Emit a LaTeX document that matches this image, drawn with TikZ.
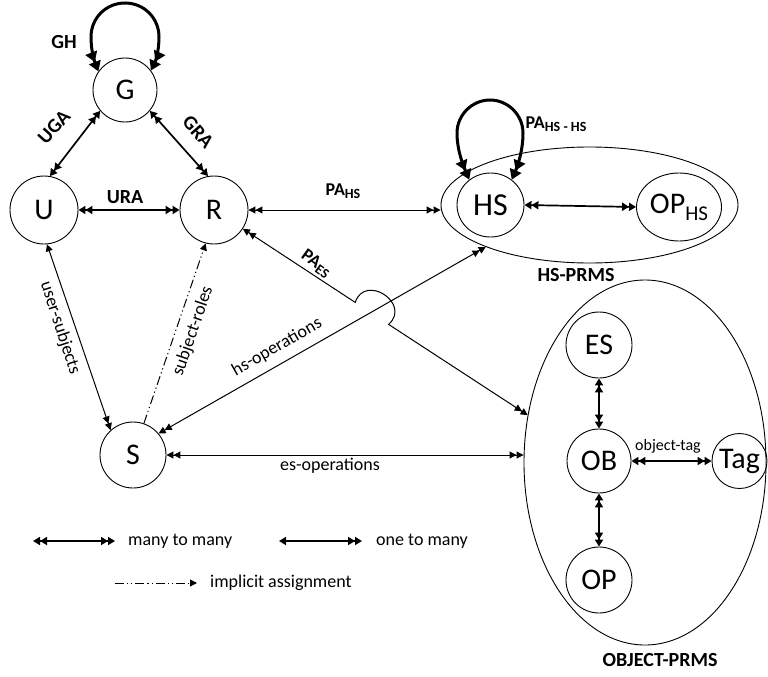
\documentclass[tikz,border=0pt]{standalone}
\usepackage{fontspec}
\setmainfont{Carlito}
\usetikzlibrary{arrows.meta,shapes.geometric}
\begin{document}
\begin{tikzpicture}[x=1pt,y=1pt,
  circ/.style={circle,draw,line width=0.9pt,inner sep=0pt,font=\fontsize{30}{30}\selectfont},
  ell/.style={ellipse,draw,line width=0.9pt,inner sep=0pt},
  boldlbl/.style={inner sep=0pt,font=\fontsize{20}{20}\selectfont\bfseries},
  plainlbl/.style={inner sep=0pt,font=\fontsize{18}{18}\selectfont},
  thinline/.style={line width=1pt},
  medline/.style={line width=1.7pt},
  thickline/.style={line width=3pt},
  mmthin/.style={thinline,arrows={Triangle[length=7pt,width=7pt]Triangle[length=7pt,width=7pt]-Triangle[length=7pt,width=7pt]Triangle[length=7pt,width=7pt]}},
  omthin/.style={thinline,arrows={Triangle[length=7pt,width=7pt]-Triangle[length=7pt,width=7pt]Triangle[length=7pt,width=7pt]}},
  mmmed/.style={medline,arrows={Triangle[length=7pt,width=8pt]Triangle[length=7pt,width=8pt]-Triangle[length=7pt,width=8pt]Triangle[length=7pt,width=8pt]}},
  ommed/.style={medline,arrows={Triangle[length=7pt,width=8pt]-Triangle[length=7pt,width=8pt]Triangle[length=7pt,width=8pt]}},
  mmbig/.style={thickline,arrows={Triangle[length=10pt,width=12pt]Triangle[length=10pt,width=12pt]-Triangle[length=10pt,width=12pt]Triangle[length=10pt,width=12pt]}},
  implicitline/.style={line width=1pt,dash pattern=on 9pt off 3pt on 1.2pt off 3pt on 1.2pt off 3pt,arrows={-Triangle[length=7pt,width=7pt]}}
]
\useasboundingbox (0,0) rectangle (768,-677);

% containers
\node[ell,minimum width=297pt,minimum height=116pt] (hsprms) at (589.5,-205) {};
\node[ell,minimum width=242pt,minimum height=365pt] (objprms) at (645,-462.5) {};

% nodes
\node[circ,minimum size=64pt] (G) at (125,-90) {G};
\node[circ,minimum size=68pt] (U) at (44,-210) {U};
\node[circ,minimum size=68pt] (R) at (214,-210) {R};
\node[circ,minimum size=66pt] (S) at (133,-455) {S};
\node[ell,minimum width=67pt,minimum height=64pt,font=\fontsize{32}{32}\selectfont] (HS) at (490.5,-205) {HS};
\node[ell,minimum width=85pt,minimum height=68pt,font=\fontsize{30}{30}\selectfont] (OPHS) at (679,-207) {OP\raisebox{-7pt}{\fontsize{21}{21}\selectfont HS}};
\node[circ,minimum size=66pt] (ES) at (599,-345) {ES};
\node[circ,minimum size=64pt] (OB) at (599,-461) {OB};
\node[circ,minimum size=66pt] (OP) at (599,-580) {OP};
\node[circ,minimum size=55pt] (Tag) at (739.5,-461) {Tag};

% loops
\draw[mmbig] (G.145) .. controls (94,-60) and (91,-50) .. (91,-37)
  .. controls (91,-18) and (106,-3) .. (125,-3)
  .. controls (144,-3) and (159,-18) .. (159,-37)
  .. controls (159,-50) and (156,-60) .. (G.37);
\draw[mmbig] (HS.130) .. controls (463,-165) and (457,-150) .. (457,-133)
  .. controls (457,-115) and (472,-100) .. (490,-100)
  .. controls (508,-100) and (523,-115) .. (523,-133)
  .. controls (523,-150) and (518,-165) .. (HS.50);

% medium connectors
\draw[mmmed] (G.220) -- (U.80);
\draw[mmmed] (G.-40) -- (R.100);
\draw[mmmed] (U.east) -- (R.west);
\draw[mmmed] (HS.east) -- (OPHS.west);
\draw[mmmed] (ES.south) -- (OB.north);
\draw[mmmed] (OB.south) -- (OP.north);
\draw[mmmed] (OB.east) -- (Tag.west);

% thin connectors
\draw[mmthin] (R.east) -- (R.east -| hsprms.west);
\draw[mmthin] (S.40) -- (hsprms.202);
\draw[mmthin] (S.east) -- (S.east -| objprms.west);
\draw[omthin] (U.275) -- (S.132);
\draw[implicitline] (S.71) -- (R.256);
\coordinate (hopA) at (355.2,-302.4);
\coordinate (hopB) at (388.6,-324.4);
\draw[mmthin] (R.327) -- (hopA) .. controls (365.0,-272.9) and (411.8,-303.7) .. (hopB) -- (objprms.158);

% labels
\node[boldlbl] (lGH) at (64,-42) {GH};
\node[boldlbl,rotate=48] (lUGA) at (54,-127) {UGA};
\node[boldlbl,rotate=-49] (lGRA) at (198,-132) {GRA};
\node[boldlbl] (lURA) at (125,-197) {URA};
\node[boldlbl] (lPAHS) at (343,-191) {\fontsize{18}{18}\selectfont PA\raisebox{-3pt}{\fontsize{14}{14}\selectfont HS}};
\node[boldlbl,rotate=-36] (lPAES) at (316,-264) {\fontsize{18}{18}\selectfont PA\raisebox{-3pt}{\fontsize{14}{14}\selectfont ES}};
\node[boldlbl] (lPAHSHS) at (556,-124) {\fontsize{18}{18}\selectfont PA\raisebox{-3pt}{\fontsize{14}{14}\selectfont HS - HS}};
\node[boldlbl] (lHSPRMS) at (576,-275) {HS-PRMS};
\node[boldlbl] (lOBJPRMS) at (660,-660) {OBJECT-PRMS};
\node[plainlbl,rotate=29.7] (lhsop) at (277,-347) {hs-operations};
\node[plainlbl,rotate=-72] (lus) at (60,-328) {user-subjects};
\node[plainlbl,rotate=71] (lsr) at (193,-331) {subject-roles};
\node[plainlbl] (lesop) at (330,-466) {es-operations};
\node[plainlbl,font=\fontsize{16}{16}\selectfont] (lobjtag) at (668,-446) {object-tag};

% legend
\coordinate (lg1a) at (33,-541);
\coordinate (lg1b) at (115,-541);
\coordinate (lg2a) at (279,-541);
\coordinate (lg2b) at (362,-541);
\coordinate (lg3a) at (115,-583);
\coordinate (lg3b) at (197,-583);
\draw[mmmed] (lg1a) -- (lg1b);
\draw[ommed] (lg2a) -- (lg2b);
\draw[implicitline] (lg3a) -- (lg3b);
\node[plainlbl,anchor=west] (lt1) at (128,-541) {many to many};
\node[plainlbl,anchor=west] (lt2) at (376,-541) {one to many};
\node[plainlbl,anchor=west] (lt3) at (210,-583) {implicit assignment};
\end{tikzpicture}
\end{document}
